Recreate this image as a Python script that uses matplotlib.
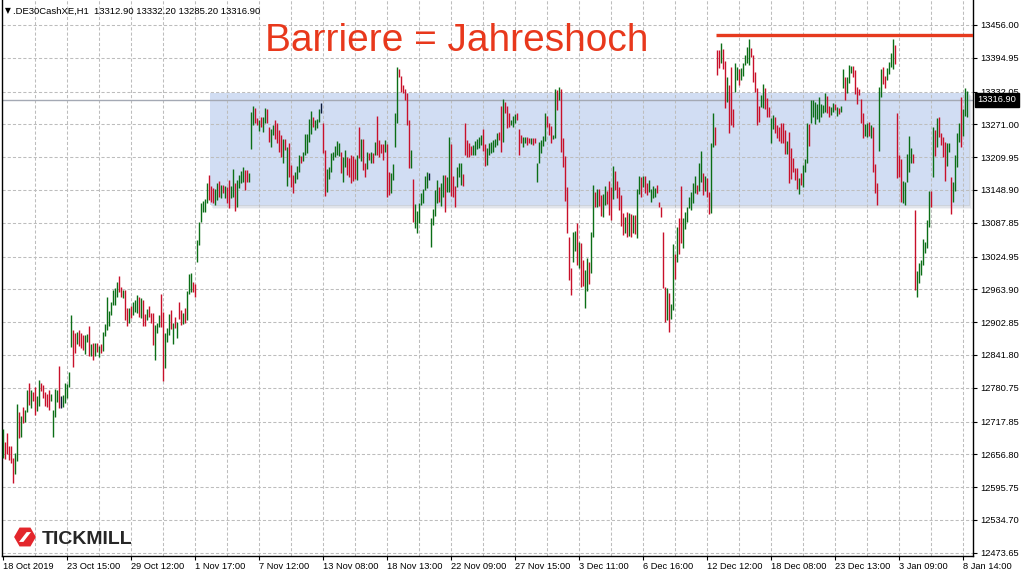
import numpy as np
import matplotlib
matplotlib.use("Agg")
import matplotlib.pyplot as plt
import matplotlib.transforms as mtransforms
from matplotlib.patches import Rectangle, RegularPolygon, Polygon

plt.rcParams['font.family'] = ['Liberation Sans', 'DejaVu Sans']

# H1 bars of .DE30CashXE (high / low per bar)
highs = [
    12704, 12680, 12696, 12672, 12672, 12650, 12659, 12750, 12736, 12728,
    12745, 12739, 12777, 12790, 12777, 12773, 12782, 12765, 12795, 12790,
    12786, 12773, 12769, 12777, 12769, 12739, 12778, 12777, 12821, 12765,
    12767, 12790, 12788, 12810, 12916, 12888, 12883, 12884, 12888, 12883,
    12879, 12879, 12881, 12896, 12862, 12864, 12864, 12864, 12858, 12862,
    12884, 12899, 12950, 12924, 12940, 12963, 12966, 12978, 12989, 12968,
    12963, 12963, 12929, 12929, 12933, 12940, 12944, 12953, 12950, 12948,
    12944, 12918, 12927, 12933, 12920, 12920, 12897, 12901, 12916, 12955,
    12922, 12883, 12892, 12918, 12925, 12901, 12912, 12903, 12940, 12925,
    12920, 12929, 12961, 12992, 12994, 12978, 12974, 13056, 13089, 13125,
    13128, 13132, 13162, 13177, 13156, 13152, 13151, 13162, 13166, 13158,
    13158, 13156, 13154, 13167, 13156, 13188, 13162, 13167, 13177, 13184,
    13192, 13186, 13186, 13180, 13294, 13305, 13301, 13283, 13279, 13285,
    13285, 13301, 13300, 13266, 13262, 13270, 13279, 13274, 13260, 13251,
    13244, 13244, 13229, 13236, 13195, 13177, 13182, 13193, 13214, 13212,
    13220, 13253, 13253, 13281, 13296, 13285, 13279, 13281, 13300, 13311,
    13274, 13223, 13188, 13192, 13218, 13220, 13231, 13240, 13236, 13220,
    13210, 13223, 13210, 13208, 13214, 13212, 13207, 13214, 13266, 13244,
    13244, 13199, 13220, 13218, 13220, 13218, 13238, 13287, 13242, 13234,
    13234, 13242, 13234, 13182, 13180, 13197, 13292, 13378, 13374, 13361,
    13344, 13337, 13329, 13279, 13223, 13169, 13123, 13110, 13125, 13143,
    13151, 13175, 13182, 13180,
    13097, 13113, 13149, 13167, 13154, 13162, 13177, 13177, 13173, 13248,
    13234, 13175, 13156, 13192, 13199, 13199, 13179, 13274, 13242, 13236,
    13231, 13233, 13240, 13244, 13248, 13251, 13262, 13234, 13227, 13236,
    13238, 13242, 13244, 13255, 13257, 13305, 13318, 13313, 13305, 13292,
    13279, 13287, 13290, 13292, 13262, 13251, 13248, 13248, 13248, 13246,
    13246, 13246, 13246, 13199, 13238, 13242, 13249, 13292, 13287, 13274,
    13268, 13251, 13337, 13335, 13340, 13337, 13246, 13212, 13154, 13061,
    13004, 13071, 13072, 13087, 13052, 13050, 13018, 13000, 13022, 13015,
    13071, 13158, 13145, 13151, 13151, 13140, 13141, 13156, 13147, 13166,
    13154, 13193, 13184, 13166, 13154, 13140, 13106, 13099, 13108, 13106,
    13104, 13102, 13102, 13151, 13175, 13173, 13175, 13175, 13162, 13167,
    13151, 13156, 13152, 13158, 13126, 13117, 13071, 12968, 12966, 12957,
    12937, 13048, 13030, 13080, 13097, 13156, 13097, 13108, 13117, 13136,
    13145, 13162, 13175, 13158, 13199, 13221, 13180, 13175, 13171, 13145,
    13236, 13292, 13266, 13409, 13409, 13422, 13411, 13389, 13359, 13344,
    13378, 13300, 13385, 13378, 13374, 13376, 13385, 13400, 13415, 13430,
    13413, 13400, 13368, 13339, 13305, 13326, 13346, 13339, 13320, 13303,
    13283, 13288, 13285, 13270, 13266, 13274, 13274, 13260, 13240, 13257,
    13227, 13208, 13190, 13190, 13171, 13180, 13195, 13207, 13274, 13272,
    13316, 13316, 13313, 13309, 13322, 13309, 13307, 13329, 13324, 13305,
    13303, 13311, 13309, 13303, 13301, 13305, 13374, 13359, 13359, 13381,
    13380, 13380, 13372, 13340, 13337, 13318, 13292, 13272, 13274, 13275,
    13270, 13266, 13197, 13162, 13340, 13374, 13378, 13361, 13376, 13387,
    13404, 13430, 13419, 13292, 13214, 13207, 13166, 13164, 13216, 13249,
    13227, 13216, 13112, 12998, 13013, 13018, 13058, 13052, 13093, 13147,
    13147, 13266, 13260, 13283, 13285, 13255, 13248, 13238, 13236, 13236,
    13173, 13164, 13214, 13255, 13274, 13322, 13300, 13339, 13332.2,
]
lows = [
    12650, 12648, 12657, 12646, 12641, 12603, 12620, 12644, 12687, 12689,
    12715, 12717, 12736, 12749, 12743, 12756, 12730, 12737, 12747, 12775,
    12762, 12747, 12745, 12739, 12756, 12689, 12726, 12754, 12743, 12743,
    12745, 12752, 12762, 12782, 12857, 12819, 12845, 12862, 12858, 12855,
    12851, 12844, 12866, 12840, 12840, 12832, 12840, 12847, 12838, 12845,
    12849, 12877, 12888, 12896, 12916, 12935, 12935, 12950, 12959, 12950,
    12948, 12907, 12896, 12901, 12911, 12916, 12922, 12920, 12912, 12911,
    12896, 12896, 12907, 12912, 12901, 12860, 12832, 12883, 12894, 12894,
    12793, 12817, 12866, 12879, 12890, 12862, 12892, 12873, 12909, 12897,
    12899, 12901, 12907, 12955, 12959, 12959, 12950, 13015, 13046, 13089,
    13108, 13108, 13125, 13130, 13126, 13125, 13121, 13130, 13136, 13134,
    13143, 13134, 13125, 13115, 13134, 13136, 13110, 13117, 13152, 13162,
    13164, 13149, 13164, 13164, 13225, 13270, 13274, 13270, 13259, 13266,
    13257, 13274, 13274, 13238, 13229, 13251, 13244, 13236, 13220, 13210,
    13199, 13223, 13156, 13173, 13154, 13143, 13162, 13169, 13182, 13199,
    13203, 13214, 13218, 13238, 13253, 13266, 13260, 13264, 13275, 13292,
    13218, 13138, 13145, 13169, 13182, 13205, 13210, 13214, 13212, 13180,
    13164, 13192, 13177, 13173, 13162, 13166, 13169, 13167, 13208, 13203,
    13186, 13173, 13188, 13205, 13199, 13199, 13214, 13214, 13210, 13218,
    13205, 13220, 13136, 13140, 13143, 13167, 13229, 13274, 13359, 13331,
    13329, 13316, 13270, 13190, 13190, 13089, 13078, 13069, 13087, 13121,
    13125, 13149, 13152, 13167,
    13043, 13084, 13100, 13125, 13126, 13119, 13136, 13108, 13145, 13145,
    13138, 13136, 13117, 13154, 13173, 13158, 13156, 13214, 13210, 13210,
    13214, 13214, 13214, 13225, 13227, 13233, 13221, 13193, 13195, 13214,
    13218, 13220, 13229, 13233, 13242, 13220, 13238, 13292, 13264, 13266,
    13270, 13266, 13274, 13279, 13214, 13236, 13229, 13236, 13233, 13236,
    13234, 13233, 13236, 13164, 13199, 13218, 13231, 13240, 13266, 13251,
    13236, 13244, 13246, 13298, 13316, 13220, 13192, 13128, 13069, 12981,
    12953, 13015, 13035, 13009, 13004, 12968, 12970, 12929, 12961, 12974,
    12994, 13061, 13117, 13117, 13119, 13100, 13099, 13121, 13123, 13102,
    13093, 13132, 13149, 13134, 13112, 13082, 13065, 13069, 13061, 13063,
    13061, 13069, 13067, 13059, 13141, 13136, 13154, 13143, 13140, 13145,
    13126, 13134, 13136, 13143, 13117, 13099, 12966, 12903, 12907, 12884,
    12909, 12925, 12983, 13015, 13030, 13050, 13041, 13076, 13089, 13115,
    13112, 13125, 13143, 13141, 13147, 13164, 13140, 13147, 13136, 13104,
    13106, 13229, 13233, 13363, 13376, 13385, 13374, 13301, 13313, 13255,
    13270, 13266, 13331, 13354, 13344, 13354, 13361, 13381, 13385, 13381,
    13396, 13350, 13331, 13270, 13275, 13303, 13301, 13300, 13285, 13285,
    13236, 13262, 13255, 13246, 13240, 13236, 13236, 13216, 13216, 13162,
    13169, 13182, 13167, 13151, 13141, 13158, 13154, 13182, 13199, 13231,
    13274, 13285, 13272, 13281, 13275, 13285, 13292, 13294, 13292, 13285,
    13288, 13294, 13298, 13287, 13290, 13294, 13339, 13316, 13329, 13348,
    13367, 13359, 13328, 13309, 13326, 13274, 13246, 13249, 13248, 13249,
    13246, 13182, 13143, 13121, 13221, 13322, 13346, 13339, 13354, 13365,
    13378, 13374, 13383, 13171, 13173, 13126, 13125, 13121, 13164, 13182,
    13199, 13199, 12963, 12950, 12976, 12991, 13009, 13032, 13041, 13080,
    13117, 13173, 13212, 13229, 13248, 13233, 13210, 13166, 13193, 13220,
    13104, 13126, 13147, 13192, 13238, 13229, 13249, 13287, 13285.2,
]
# g = up bar, r = down bar, k = unchanged
dirs = ("grrrrrggrg rggrgrrggr rrrrggggrk gggggrrgrr rggrgrgrgr "
        "ggggggggrr grrgrgggrg rrgrrrgggr rgggrgrgrr grgggrrggg "
        "gggrrrggrg rgrrggrggg grrgggrrgr ggrrggrrrr grgrrrgggr "
        "gggggrgggk rrgggggggr ggrrrrrgrg rrgrgrgrrr rgrrggggrr "
        "rrrrgrgggg gggk "
        "ggggrggrgg rrrgggrrrr rgggggrrgg ggggrrgrrr gggrrrggrr "
        "grrgggggrr rggrgrrrrr rggrgrrggr ggrgrrggrr rgrrrrrgrg "
        "rgrggrgrrg gggrrrrrgr ggrgrrgggg gggrggrgrr ggrrrgrrgr "
        "rrggrggggg rrrrrggrrr ggrrrrrrgr rrrrgrgggr ggggggggrr "
        "ggrgrggrgg grrrrrrggr grrrggrrgg ggrrrrgggg grrggggggg "
        "rgrgrrrrgg rggggrggg").replace(" ", "")

x_ticks = list(range(0, 481, 32))
x_labels = ['18 Oct 2019', '23 Oct 15:00', '29 Oct 12:00', '1 Nov 17:00',
            '7 Nov 12:00', '13 Nov 08:00', '18 Nov 13:00', '22 Nov 09:00',
            '27 Nov 15:00', '3 Dec 11:00', '6 Dec 16:00', '12 Dec 12:00',
            '18 Dec 08:00', '23 Dec 13:00', '3 Jan 09:00', '8 Jan 14:00']
y_ticks = [13456.00, 13394.95, 13332.05, 13271.00, 13209.95, 13148.90,
           13087.85, 13024.95, 12963.90, 12902.85, 12841.80, 12780.75,
           12717.85, 12656.80, 12595.75, 12534.70, 12473.65]

last_price = 13316.90
header = '.DE30CashXE,H1  13312.90 13332.20 13285.20 13316.90'
barrier = 13437            # Jahreshoch
barrier_from = 356.5       # bar index where the red line starts
zone_top, zone_bottom = 13330, 13120
zone_from, zone_to = 103.5, 483.0

n = min(len(highs), len(lows), len(dirs))
x = np.arange(n)
cmap = {'g': '#0b6e16', 'r': '#c8102a', 'k': '#0b1a3c'}
colors = [cmap[c] for c in dirs[:n]]

fig = plt.figure(figsize=(10.24, 5.76), dpi=100)
fig.patch.set_facecolor('white')
ax = fig.add_axes([2.3 / 1024, 20 / 576, 971 / 1024, 556 / 576])
ax.set_xlim(-0.5, 485)
ax.set_ylim(12467.5, 13502.5)

# grid
for gx in range(16, 485, 16):
    ax.axvline(gx, color='#bdbdbd', lw=0.75, ls=(0, (3, 2)), zorder=1)
for gy in y_ticks:
    ax.axhline(gy, color='#bdbdbd', lw=0.75, ls=(0, (3, 2)), zorder=1)

# blue range box with a soft shadow
for k, a in [(3, 0.10), (2, 0.15), (1, 0.2)]:
    ax.add_patch(Rectangle((zone_from + k * 0.5, zone_bottom - k * 1.9),
                           zone_to - zone_from, zone_top - zone_bottom,
                           facecolor='#8090a8', alpha=a, edgecolor='none', zorder=0.4))
ax.add_patch(Rectangle((zone_from, zone_bottom), zone_to - zone_from,
                       zone_top - zone_bottom, facecolor='#d1ddf3',
                       edgecolor='none', zorder=0.5))

# last price line
ax.axhline(last_price, color='#a4a9b4', lw=1.0, zorder=2)

# OHLC bars
ax.vlines(x, lows[:n], highs[:n], colors=colors, linewidth=1.0, zorder=3)

# barrier line
ax.plot([barrier_from, 485], [barrier, barrier], color='#e63a1e', lw=2.4,
        solid_capstyle='butt', zorder=4)

# axes look
ax.spines['top'].set_visible(False)
for s in ['left', 'right', 'bottom']:
    ax.spines[s].set_linewidth(1.0)
    ax.spines[s].set_color('black')

ax.set_xticks(x_ticks)
ax.set_xticklabels(x_labels)
for lbl in ax.get_xticklabels():
    lbl.set_ha('left')
ax.yaxis.tick_right()
ax.set_yticks(y_ticks)
ax.set_yticklabels([f'{v:.2f}' for v in y_ticks])
ax.tick_params(axis='both', direction='out', length=3, width=0.8,
               labelsize=6.7, colors='black', pad=2)
ax.tick_params(axis='x', pad=1.5)

# price tag on the right axis
trans = mtransforms.blended_transform_factory(ax.transAxes, ax.transData)
ax.text(1.0045, last_price, f'{last_price:.2f}', transform=trans, ha='left',
        va='center', fontsize=6.7, color='white', zorder=6,
        bbox=dict(boxstyle='square,pad=0.25', fc='black', ec='black'))

# header and annotation
fig.text(5 / 1024, 1 - 11 / 576, '\u25bc', fontsize=5.5, va='center',
         family=['DejaVu Sans'])
fig.text(13 / 1024, 1 - 11 / 576, header, fontsize=6.8, va='center')
fig.text(265 / 1024, 1 - 51 / 576, 'Barriere = Jahreshoch', fontsize=28,
         color='#e8381c', va='baseline')

# Tickmill logo
lax = fig.add_axes([13 / 1024, 1 - 548 / 576, 24 / 1024, 22 / 576])
lax.set_xlim(-1.1, 1.1)
lax.set_ylim(-1.0, 1.0)
lax.set_aspect('equal')
lax.axis('off')
lax.add_patch(RegularPolygon((0, 0), 6, radius=1.0, orientation=np.pi / 6,
                             facecolor='#e3262c', edgecolor='none'))
lax.add_patch(Polygon([(-0.55, -0.45), (-0.15, -0.45), (0.55, 0.45), (0.15, 0.45)],
                      closed=True, facecolor='white', edgecolor='none'))
fig.text(42 / 1024, 1 - 544 / 576, 'TICKMILL', fontsize=14, weight='bold',
         color='#262626', va='baseline')

fig.savefig('out.png', dpi=100)
